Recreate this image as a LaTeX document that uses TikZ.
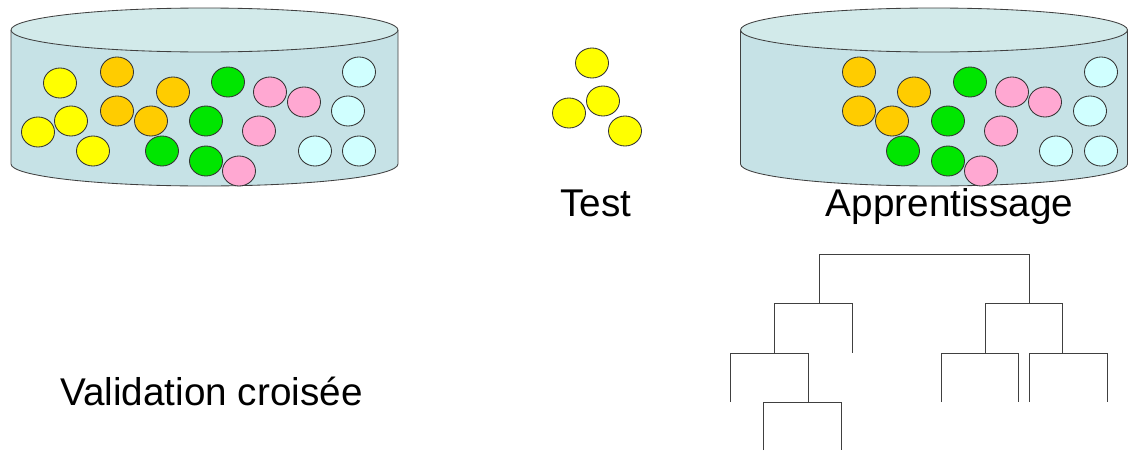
\documentclass[tikz,border=0pt]{standalone}
\usepackage{fontspec}
\setmainfont{Liberation Sans}
\usepackage{tikz}
\usetikzlibrary{positioning}
\definecolor{cuve}{RGB}{198,226,230}
\definecolor{couvercle}{RGB}{210,234,234}
\definecolor{jaune}{RGB}{255,255,0}
\definecolor{orange}{RGB}{255,204,0}
\definecolor{vert}{RGB}{0,230,0}
\definecolor{rose}{RGB}{255,168,210}
\definecolor{cyanclair}{RGB}{208,255,255}
\tikzset{
  bille/.style={draw=black!80,line width=0.6pt},
  cuveline/.style={draw=black!75,line width=0.6pt},
  arbre/.style={draw=black!75,line width=0.7pt},
  label texte/.style={font=\fontsize{27.5}{32}\selectfont,anchor=base,inner sep=0pt}
}
\newcommand{\cuveA}[1]{%
  \fill[cuve] (#1-193.5,420) -- (#1-193.5,286) arc[start angle=180,end angle=360,x radius=193.5,y radius=22] -- (#1+193.5,420) -- cycle;
  \draw[cuveline] (#1-193.5,420) -- (#1-193.5,286) arc[start angle=180,end angle=360,x radius=193.5,y radius=22] -- (#1+193.5,420);
  \draw[cuveline,fill=couvercle] (#1,420) ellipse[x radius=193.5,y radius=22];
}
\begin{document}
\begin{tikzpicture}[x=0.025cm,y=0.025cm]
  \useasboundingbox (0,0) rectangle (1128,450);
  % les deux cuves
  \cuveA{204.5}
  \cuveA{934}
  % billes des cuves
  \foreach \p in {(60,367),(71,329),(38,318),(93,299)}
    \draw[bille,fill=jaune] \p ellipse[x radius=16.5,y radius=15];
  \foreach \p in {(117,378),(173,358),(117,339),(151,329),(859,378),(914,358),(859,339),(892,329)}
    \draw[bille,fill=orange] \p ellipse[x radius=16.5,y radius=15];
  \foreach \p in {(228,368),(206,329),(162,299),(206,289),(970,368),(948,329),(903,299),(948,289)}
    \draw[bille,fill=vert] \p ellipse[x radius=16.5,y radius=15];
  \foreach \p in {(270,358),(304,348),(259,319),(239,279),(1012,358),(1045,348),(1001,319),(981,279)}
    \draw[bille,fill=rose] \p ellipse[x radius=16.5,y radius=15];
  \foreach \p in {(359,378),(348,339),(315,299),(359,299),(1101,378),(1090,339),(1056,299),(1101,299)}
    \draw[bille,fill=cyanclair] \p ellipse[x radius=16.5,y radius=15];
  % billes de test
  \foreach \p in {(592,387),(569,337),(603,349),(625,319)}
    \draw[bille,fill=jaune] \p ellipse[x radius=16.5,y radius=15];
  % textes
  \node[label texte] (test) at (596,234) {Test};
  \node[label texte] (appr) at (949.5,234) {Apprentissage};
  \node[label texte] (valid) at (211.5,45) {Validation croisée};
  % arbre
  \draw[arbre] (819,147) -- (819,196) -- (1029,196) -- (1029,147);
  \draw[arbre] (774,97) -- (774,147) -- (852,147) -- (852,97);
  \draw[arbre] (985,97) -- (985,147) -- (1062,147) -- (1062,97);
  \draw[arbre] (730,48) -- (730,97) -- (808,97) -- (808,48);
  \draw[arbre] (941,48) -- (941,97) -- (1018,97) -- (1018,48);
  \draw[arbre] (1029,48) -- (1029,97) -- (1107,97) -- (1107,48);
  \draw[arbre] (763,0) -- (763,48) -- (841,48) -- (841,0);
\end{tikzpicture}
\end{document}
